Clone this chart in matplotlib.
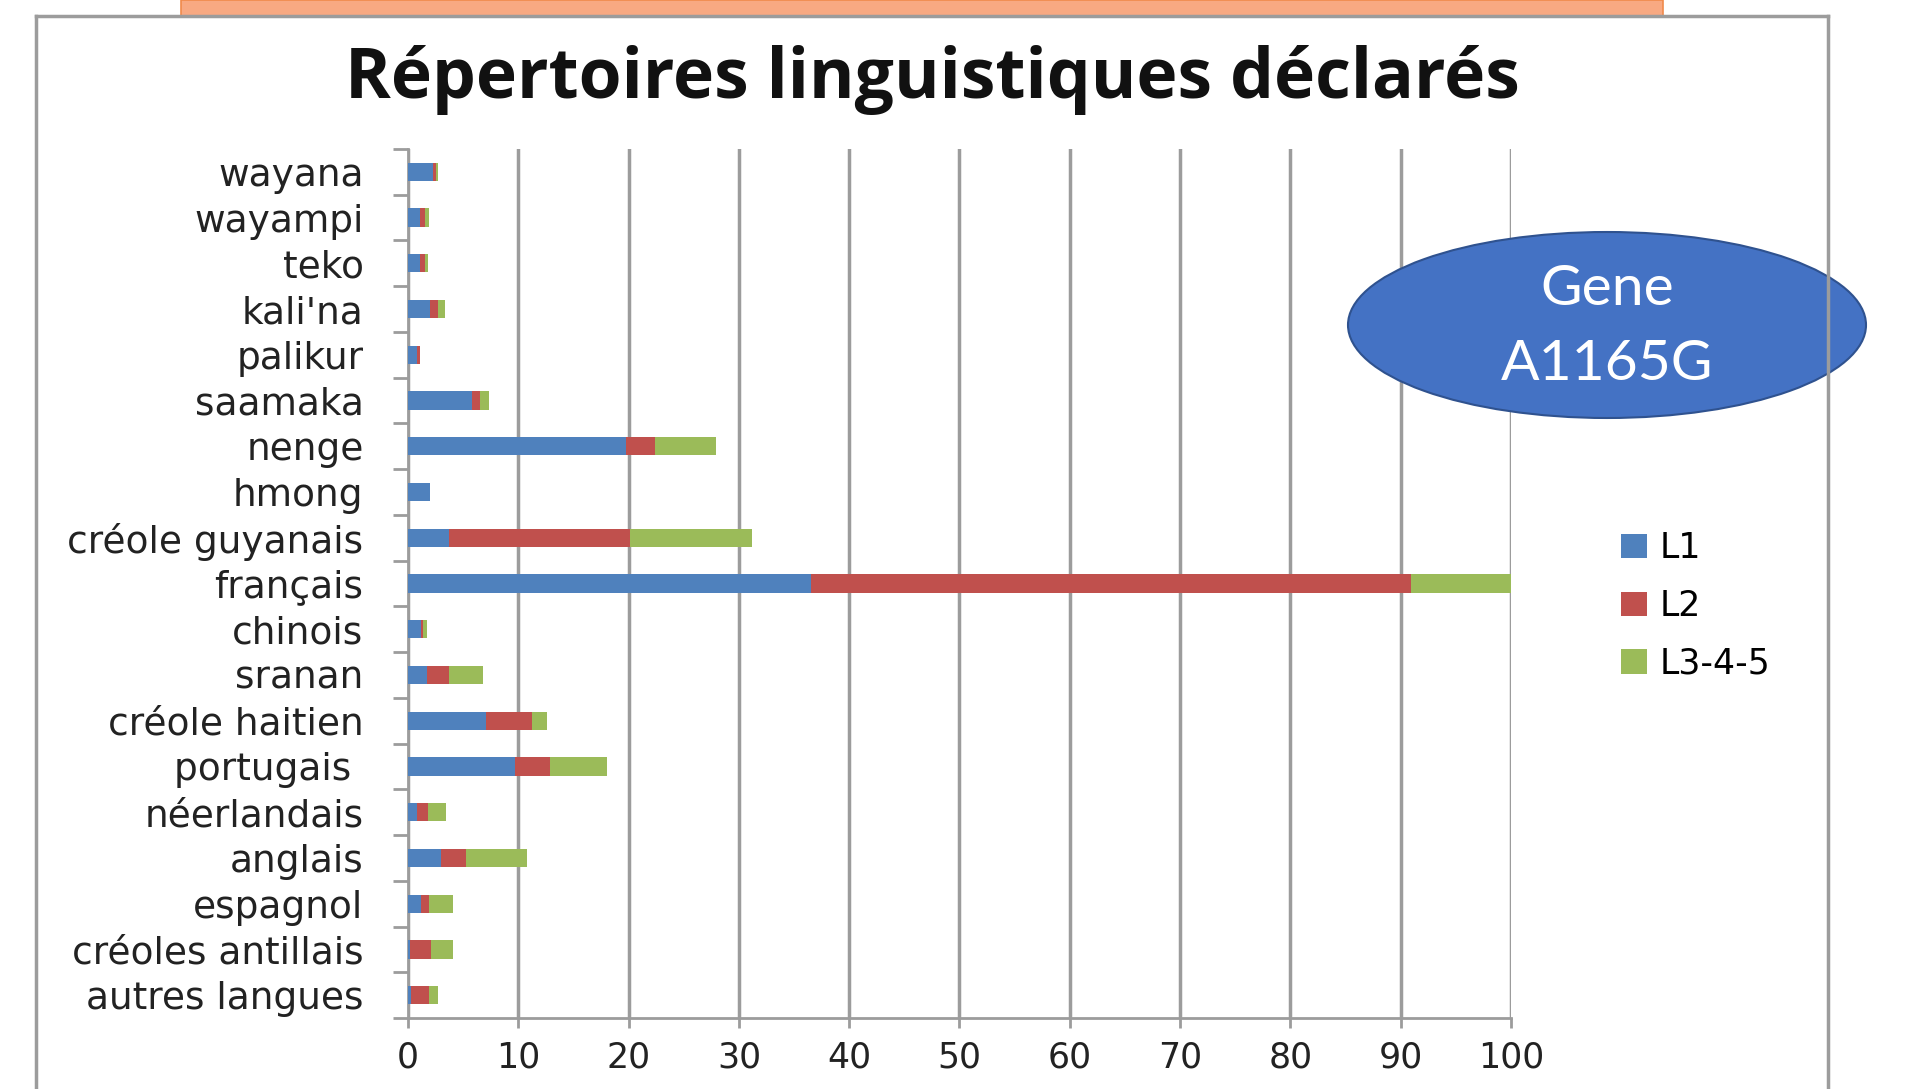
import matplotlib
matplotlib.use("Agg")
import matplotlib.pyplot as plt
from matplotlib.patches import Ellipse, Rectangle, Patch
from matplotlib.lines import Line2D
import numpy as np

LANGS = ["wayana", "wayampi", "teko", "kali'na", "palikur", "saamaka", "nenge",
         "hmong", "créole guyanais", "français", "chinois", "sranan",
         "créole haitien", "portugais ", "néerlandais", "anglais", "espagnol",
         "créoles antillais", "autres langues"]
L1 = [2.3, 1.1, 1.1, 2.0, 0.8, 5.8, 19.8, 2.0, 3.7, 36.5, 1.2, 1.7, 7.1, 9.7,
      0.8, 3.0, 1.2, 0.2, 0.3]
L2 = [0.2, 0.4, 0.4, 0.75, 0.3, 0.7, 2.6, 0.0, 16.4, 54.4, 0.2, 2.0, 4.1, 3.2,
      1.0, 2.3, 0.7, 1.9, 1.6]
L3 = [0.2, 0.4, 0.3, 0.6, 0.0, 0.8, 5.5, 0.0, 11.1, 9.1, 0.3, 3.1, 1.4, 5.1,
      1.6, 5.5, 2.2, 2.0, 0.8]
SERIES = ["L1", "L2", "L3-4-5"]
COLORS = ["#4F81BD", "#C0504D", "#9BBB59"]
XTICKS = list(range(0, 101, 10))

W, H = 1915, 1089
fig = plt.figure(figsize=(W / 100, H / 100), dpi=100)

# slide frame + orange banner
GRAY = "#9C9C9C"
fig.add_artist(Line2D([36 / W, 36 / W], [0, 1 - 16 / H], color=GRAY, lw=2.5))
fig.add_artist(Line2D([1828 / W, 1828 / W], [0, 1 - 16 / H], color=GRAY, lw=2.5))
fig.add_artist(Line2D([36 / W, 1828 / W], [1 - 16 / H, 1 - 16 / H], color=GRAY, lw=2.5))
fig.add_artist(Rectangle((181 / W, 1 - 16 / H), (1663 - 181) / W, 16 / H,
                         transform=fig.transFigure, facecolor="#F8A982",
                         edgecolor="#F08A4B", lw=1.2))

ax = fig.add_axes([408 / W, 71 / H, 1103 / W, (1018 - 149) / H])
y = np.arange(len(LANGS))
left = np.zeros(len(LANGS))
for vals, name, c in zip([L1, L2, L3], SERIES, COLORS):
    ax.barh(y, vals, 0.4, left=left, color=c, label=name, zorder=3)
    left = left + np.array(vals)

ax.set_ylim(len(LANGS) - 0.5, -0.5)
ax.set_xlim(0, 100)
ax.set_yticks(y)
ax.set_yticklabels(LANGS)
ax.set_yticks(np.arange(-0.5, len(LANGS)), minor=True)
ax.tick_params(axis="y", which="major", length=0, pad=32, labelsize=27,
               labelcolor="#222222")
ax.tick_params(axis="y", which="minor", length=11, width=2, color=GRAY,
               direction="out")
ax.set_xticks(XTICKS)
ax.tick_params(axis="x", length=7, width=2, color=GRAY, pad=9, labelsize=25,
               labelcolor="#222222")
ax.grid(axis="x", color=GRAY, lw=2.5, zorder=0)
for s in ["top", "right"]:
    ax.spines[s].set_visible(False)
for s in ["left", "bottom"]:
    ax.spines[s].set_color(GRAY)
    ax.spines[s].set_linewidth(2)

fig.text(932 / W, 1 - 80 / H, "Répertoires linguistiques déclarés",
         ha="center", va="center", fontsize=50, fontweight="bold",
         family="Open Sans", color="#111111")

handles = [Patch(facecolor=c) for c in COLORS]
fig.legend(handles, SERIES, loc="center left", bbox_to_anchor=(1590 / W, 1 - 606 / H),
           frameon=False, fontsize=25, handlelength=0.75, handleheight=0.7,
           handletextpad=0.35, labelspacing=0.68)

fig.add_artist(Ellipse((1607 / W, 1 - 325 / H), 518 / W, 186 / H,
                       transform=fig.transFigure, facecolor="#4472C4",
                       edgecolor="#2F528F", lw=1.5))
fig.text(1607 / W, 1 - 289 / H, "Gene", ha="center", va="center",
         fontsize=41, family="Lato", color="white")
fig.text(1607 / W, 1 - 365 / H, "A1165G", ha="center", va="center",
         fontsize=41, family="Lato", color="white")

fig.savefig("out.png", dpi=100)
